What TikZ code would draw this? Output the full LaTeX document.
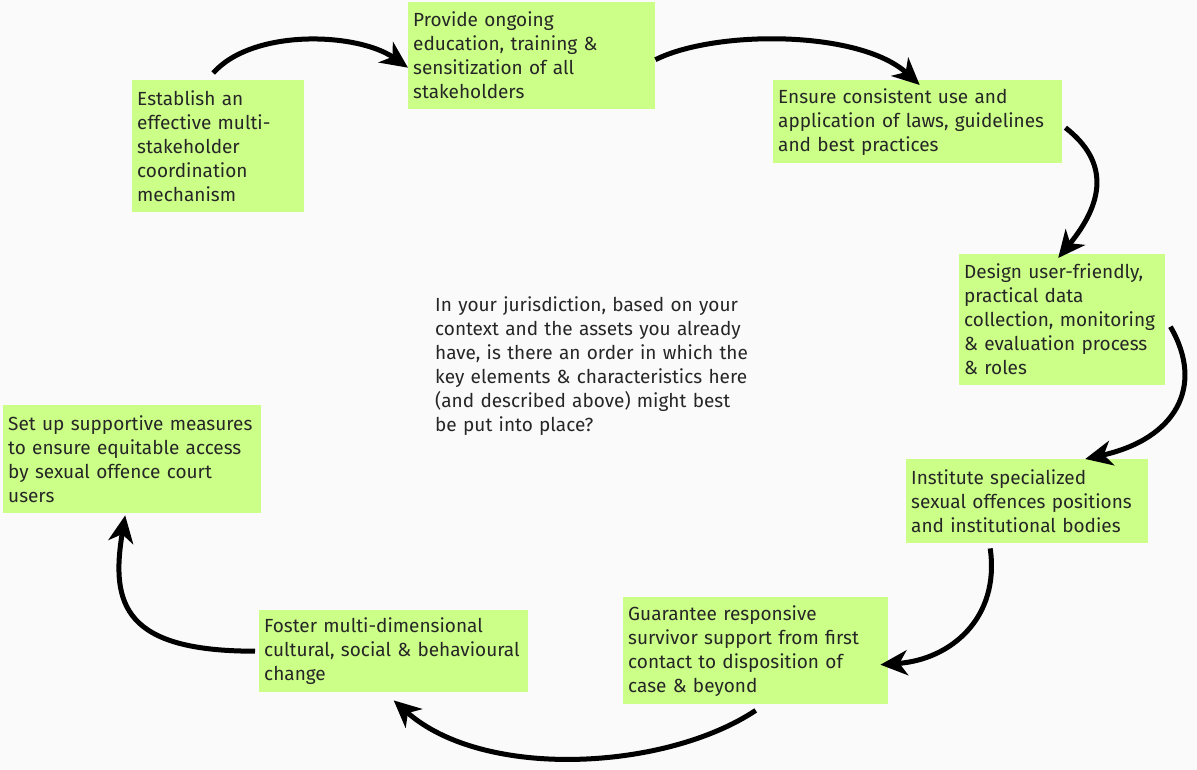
\documentclass[tikz,border=0pt]{standalone}
\usepackage{fontspec}
\setmainfont{Fira Sans}
\usetikzlibrary{arrows.meta}
\definecolor{notegreen}{RGB}{204,255,136}
\definecolor{pagegray}{RGB}{250,250,250}
\tikzset{
  note/.style={fill=notegreen, anchor=north west, align=left, inner xsep=5pt, inner ysep=6pt,
    font=\fontsize{19}{24}\selectfont, text=black!85},
  cycle/.style={line width=5pt, -{Stealth[length=27pt, width=25pt, inset=8pt]}}
}
\begin{document}
\begin{tikzpicture}[x=1pt, y=-1pt]
  \fill[pagegray] (0,0) rectangle (1197,770);
  \useasboundingbox (0,0) rectangle (1197,770);

  \node[note, text width=162pt, minimum height=132pt] (establish) at (132,80)
    {Establish an\\effective multi-\\stakeholder\\coordination\\mechanism};
  \node[note, text width=237pt, minimum height=107pt] (provide) at (408,2)
    {Provide ongoing\\education, training \&\\sensitization of all\\stakeholders};
  \node[note, text width=279pt, minimum height=83pt] (ensure) at (773,80)
    {Ensure consistent use and\\application of laws, guidelines\\and best practices};
  \node[note, text width=196pt, minimum height=131pt] (design) at (959,254)
    {Design user-friendly,\\practical data\\collection, monitoring\\\& evaluation process\\\& roles};
  \node[note, text width=232pt, minimum height=84pt] (institute) at (906,459)
    {Institute specialized\\sexual offences positions\\and institutional bodies};
  \node[note, text width=255pt, minimum height=107pt] (guarantee) at (623,597)
    {Guarantee responsive\\survivor support from first\\contact to disposition of\\case \& beyond};
  \node[note, text width=259pt, minimum height=82pt] (foster) at (259,610)
    {Foster multi-dimensional\\cultural, social \& behavioural\\change};
  \node[note, text width=248pt, minimum height=108pt] (setup) at (3,405)
    {Set up supportive measures\\to ensure equitable access\\by sexual offence court\\users};

  \node[note, fill=none, text width=360pt] (question) at (430,290)
    {In your jurisdiction, based on your\\context and the assets you already\\have, is there an order in which the\\key elements \& characteristics here\\(and described above) might best\\be put into place?};

  \draw[cycle] ([xshift=-5pt, yshift=7pt]establish.north)
    .. controls +(40,-45) and +(-50,-35) .. ([yshift=-12pt]provide.west);
  \draw[cycle] ([yshift=-4pt]provide.east)
    .. controls +(60,-30) and +(-60,-55) .. ([xshift=2pt, yshift=-5pt]ensure.north);
  \draw[cycle] ([xshift=3pt, yshift=-6pt]ensure.east)
    .. controls +(45,35) and +(45,-55) .. ([xshift=-4pt, yshift=-4pt]design.north);
  \draw[cycle] ([xshift=5pt, yshift=-7pt]design.east)
    .. controls +(35,60) and +(90,-20) .. ([xshift=58pt]institute.north);
  \draw[cycle] ([xshift=-37pt, yshift=-5pt]institute.south)
    .. controls +(10,70) and +(70,-5) .. ([xshift=-8pt, yshift=-14pt]guarantee.east);
  \draw[cycle] ([yshift=-6pt]guarantee.south)
    .. controls +(-90,60) and +(90,80) .. ([yshift=-8pt]foster.south);
  \draw[cycle] ([xshift=-4pt]foster.west)
    .. controls +(-130,0) and +(-15,90) .. ([xshift=-7pt, yshift=-2pt]setup.south);
\end{tikzpicture}
\end{document}
